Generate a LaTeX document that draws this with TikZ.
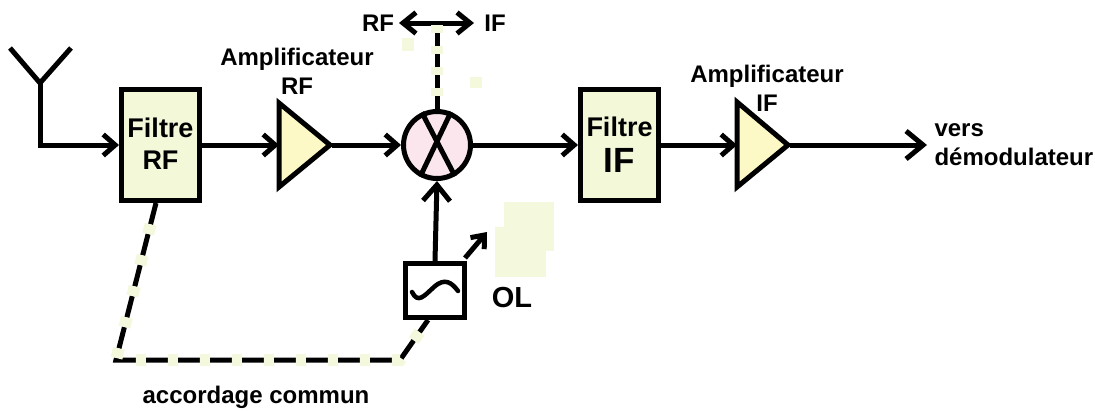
\documentclass[tikz,border=0pt]{standalone}
\usepackage{fontspec}
\setmainfont{Liberation Sans}
\usetikzlibrary{arrows.meta}
\definecolor{boxfill}{HTML}{F3F8D9}
\definecolor{trifill}{HTML}{FCF9C6}
\definecolor{mixfill}{HTML}{FCE6EE}
\definecolor{speck}{HTML}{F4F8DC}
\begin{document}
\begin{tikzpicture}[x=1pt,y=-1pt, line width=5pt, line join=miter,
  blk/.style={draw=black, fill=boxfill, rectangle, minimum width=78pt, minimum height=111pt, inner sep=0pt, align=center, font=\fontsize{27}{32}\selectfont\bfseries},
  arr/.style={-{Straight Barb[length=12pt,width=21pt]}},
  lbl/.style={font=\fontsize{24}{29}\selectfont\bfseries, align=center, inner sep=0pt},
  dashblk/.style={draw=black, line width=5pt, line cap=butt, dash pattern=on 22pt off 10pt},
  dashspk/.style={draw=speck, line width=12pt, line cap=butt, dash pattern=on 10pt off 22pt, dash phase=10pt}]
\useasboundingbox (0,0) rectangle (1095,410);
% specks
\fill[speck] (504,202) rectangle (554,251);
\fill[speck] (495,227) rectangle (546,277);
\fill[speck] (402,38) rectangle (414,51);
\fill[speck] (470,77) rectangle (482,88);
% nodes
\node[blk] (frf) at (160.5,145) {\raisebox{3pt}{Filtre}\\\raisebox{3pt}{RF}};
\node[blk] (fif) at (619.5,145) {Filtre\\[4pt]\fontsize{35}{36}\selectfont IF};
\node[draw=black, fill=mixfill, circle, minimum size=67pt, inner sep=0pt] (mix) at (437,145) {};
\node[draw=black, fill=white, rectangle, minimum width=59pt, minimum height=54pt, inner sep=0pt] (ol) at (435,290.5) {};
% triangles
\coordinate (arfin) at (279,145);
\coordinate (arfout) at (332,145);
\coordinate (aifin) at (737,145);
\coordinate (aifout) at (790,145);
\draw[fill=trifill] (279,103) -- (279,187) -- (330,145) -- cycle;
\draw[fill=trifill] (737,102) -- (737,187) -- (788,145) -- cycle;
% mixer cross
\draw[line cap=butt] (mix.115) -- (mix.300);
\draw[line cap=butt] (mix.67) -- (mix.242);
% antenna
\coordinate (ant) at (40,83);
\coordinate (antl) at (10,48);
\coordinate (antr) at (71,48);
\coordinate (antc) at (40,145);
\draw (antl) -- (ant) -- (antr);
\draw[arr] (ant) -- (antc) -- (frf.west);
% chain
\draw[arr] (frf.east) -- (arfin);
\draw[arr] (arfout) -- (mix.west);
\draw[arr] (mix.east) -- (fif.west);
\draw[arr] (fif.east) -- (aifin);
\coordinate (out) at (927,145);
\draw[-{Straight Barb[length=17pt,width=28pt]}] (aifout) -- (out);
\node[lbl, anchor=west, align=left] (vers) at (932,145) {vers\\démodulateur};
% labels
\node[lbl] (lrf) at (297,71) {Amplificateur\\RF};
\node[lbl] (lif) at (767,88) {Amplificateur\\IF};
% top RF<->IF
\coordinate (topc) at (437,23);
\coordinate (topl) at (399,23);
\coordinate (topr) at (474,23);
\draw[{Straight Barb[length=13pt,width=21pt]}-{Straight Barb[length=13pt,width=21pt]}] (topl) -- (topr);
\draw[draw=black, line cap=butt, dash pattern=on 13pt off 8pt] (mix.north) -- (topc);
\draw[draw=speck, line width=12pt, line cap=butt, dash pattern=on 8pt off 13pt, dash phase=8pt] (mix.north) -- (topc);
\node[lbl] (trf) at (378,23) {RF};
\node[lbl] (tif) at (495,23) {IF};
% OL
\draw[-{Straight Barb[length=16pt,width=27pt]}] (ol.north) -- (mix.south);
\coordinate (olarrs) at (465,258);
\coordinate (olarre) at (487,232);
\draw[-{Straight Barb[length=11pt,width=18pt]}] (olarrs) -- (olarre);
\draw[line width=4.5pt, line cap=round] (412,292) .. controls (418,304) and (424,296) .. (434,287) .. controls (445,277) and (452,283) .. (458,291);
\node[font=\fontsize{29}{30}\selectfont\bfseries, inner sep=0pt] (oll) at (512,298) {OL};
% common tuning
\coordinate (d0) at (156,203);
\coordinate (d1) at (116,360);
\coordinate (d2) at (400,360);
\coordinate (d3) at (428,320);
\draw[dashblk] (d0) -- (d1) -- (d2) -- (d3);
\draw[dashspk] (d0) -- (d1) -- (d2) -- (d3);
\node[lbl] (acc) at (256,397) {accordage commun};
\end{tikzpicture}
\end{document}
